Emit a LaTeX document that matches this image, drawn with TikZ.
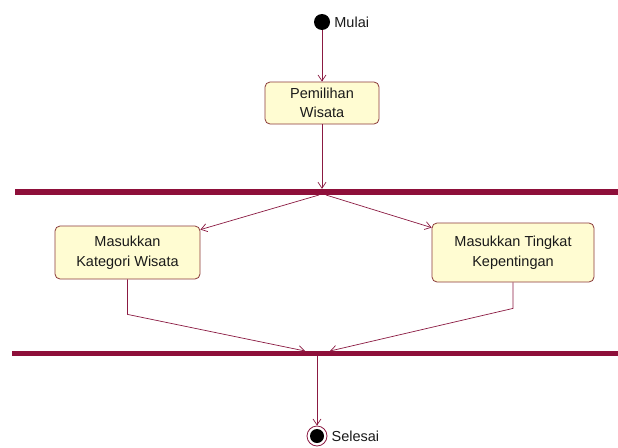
\documentclass[tikz,border=0pt]{standalone}
\usepackage{fontspec}
\setmainfont{Liberation Sans}
\usetikzlibrary{arrows.meta}
\definecolor{lineC}{HTML}{8B1A42}
\definecolor{barC}{HTML}{8E0F3A}
\definecolor{boxB}{HTML}{8B3A3A}
\definecolor{boxF}{HTML}{FFFCD2}
\definecolor{txtC}{HTML}{1A1A1A}
\begin{document}
\begin{tikzpicture}[x=1pt,y=-1pt,
 act/.style={draw=boxB, fill=boxF, rounded corners=5pt, line width=0.8pt, align=center, font=\fontsize{14.5}{19.5}\selectfont, text=txtC, inner sep=0pt},
 lbl/.style={anchor=west, font=\fontsize{14.5}{17}\selectfont, text=txtC, inner sep=0pt},
 flow/.style={draw=lineC, line width=0.7pt, -{Straight Barb[length=6pt,width=8pt]}},
 bar/.style={fill=barC, draw=none, inner sep=0pt, minimum height=6pt}]
\useasboundingbox[fill=white] (0,0) rectangle (618,447);
% initial node
\node[circle, fill=black, minimum size=16pt, inner sep=0pt] (start) at (322,22) {};
\node[lbl] (mulai) at ([xshift=4pt]start.east) {Mulai};
% actions
\node[act, minimum width=114pt, minimum height=42pt] (b1) at (322,103) {Pemilihan\\Wisata};
\node[bar, minimum width=603pt] (bar1) at (316.5,192) {};
\node[act, minimum width=145pt, minimum height=53pt] (b2) at (127.5,252.5) {Masukkan\\Kategori Wisata};
\node[act, minimum width=162pt, minimum height=59pt] (b3) at (513,252.5) {Masukkan Tingkat\\Kepentingan};
\node[bar, minimum width=606pt, minimum height=5pt] (bar2) at (315,353.5) {};
% final node
\node[circle, draw=lineC, fill=white, line width=0.8pt, minimum size=20pt, inner sep=0pt] (end) at (317,436) {};
\node[circle, fill=black, minimum size=14pt, inner sep=0pt] (endin) at (end.center) {};
\node[lbl] (selesai) at ([xshift=4pt]end.east) {Selesai};
% helper coordinates on the bars
\coordinate (f1) at (319,195);
\coordinate (f2) at (326,195);
\coordinate (j1) at (305,351);
\coordinate (j2) at (330,351);
% connectors
\draw[flow] (start) -- (b1);
\draw[flow] (b1) -- (b1 |- bar1.north);
\draw[flow] (f1) -- ([yshift=-4pt]b2.north east);
\draw[flow] (f2) -- ([yshift=-5pt]b3.north west);
\draw[flow] (b2.south) -- ++(0,35) -- (j1);
\draw[flow] (b3.south) -- ++(0,26) -- (j2);
\draw[flow] (bar2.south -| end) -- (end);
\end{tikzpicture}
\end{document}
